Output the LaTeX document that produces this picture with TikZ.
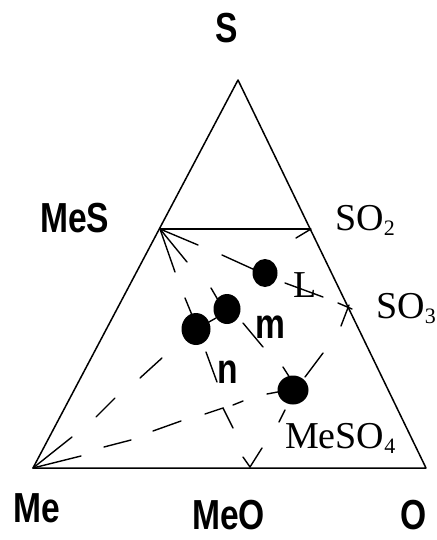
\documentclass[tikz,border=0pt]{standalone}
\usepackage{fontspec}
\setmainfont{Liberation Serif}
\newfontfamily\lblfont[FakeStretch=0.8]{Liberation Sans}
\usetikzlibrary{shapes.geometric}
\newcommand\sanslbl{\lblfont\bfseries\fontsize{42}{44}\selectfont}
\newcommand\seriflbl{\rmfamily\fontsize{38}{40}\selectfont}
\newcommand\sbs[1]{\raisebox{-5pt}{\fontsize{22}{22}\selectfont #1}}
\tikzset{
  edge/.style={line width=1.5pt, line cap=round, line join=round},
  tie/.style={line width=1.4pt, line cap=round},
  dot/.style={ellipse, fill=black, inner sep=0pt},
  sl/.style={inner sep=0pt, anchor=base west, font=\sanslbl},
  rl/.style={inner sep=0pt, anchor=base west, font=\seriflbl},
}
\begin{document}
\begin{tikzpicture}[x=1pt,y=-1pt]
\useasboundingbox (0,0) rectangle (436,540);
% vertices
\coordinate (S) at (238,80);
\coordinate (Me) at (33,468);
\coordinate (O) at (426,468);
\coordinate (MeS) at (160,229);
\coordinate (SO2) at (311,229);
% triangle
\draw[edge] (S) -- (Me) -- (O) -- cycle;
\draw[line width=2pt] (MeS) -- (SO2);
% dots
\node[dot, minimum width=25pt, minimum height=28pt] (dL) at (265,273) {};
\node[dot, minimum width=27pt, minimum height=30pt] (dm) at (227,309) {};
\node[dot, minimum width=29pt, minimum height=32pt] (dn) at (196,329) {};
\node[dot, minimum width=31pt, minimum height=29pt] (dq) at (293,390) {};
% labels
\node[sl, anchor=base] (lS) at (227,43) {S};
\node[sl] (lMeS) at (40,232) {MeS};
\node[rl] (lSO2) at (335,230) {SO\sbs{2}};
\node[rl] (lSO3) at (376,318) {SO\sbs{3}};
\node[rl] (lMeSO4) at (285,448) {MeSO\sbs{4}};
\node[sl] (lMe) at (13,522) {Me};
\node[sl] (lMeO) at (192,529) {MeO};
\node[sl] (lO) at (400,529) {O};
\node[rl] (lL) at (293,297) {L};
\node[sl] (lm) at (255,338) {m};
\node[sl] (ln) at (217,383) {n};
% fan at MeS
\draw[tie] (MeS) -- (198,245);
\draw[tie] (MeS) -- (187,262);
\draw[tie] (MeS) -- (175,272);
% arrow tick at SO2
\draw[tie] (SO2) -- (296,238);
% tick at SO3
\draw[tie] (338,303) -- (352,309);
\draw[tie] (341,326) -- (349,305);
% tie lines near dots
\draw[tie] (222,255) -- (255,270);
\draw[tie] (285,283) -- (323,297);
\draw[tie] (211,288) -- (218,300);
\draw[tie] (185,298) -- (192,315);
\draw[tie] (209,322) -- (216,318);
\draw[tie] (243,323) -- (263,347);
\draw[tie] (206,352) -- (217,382);
% MeSO4 dot spokes
\draw[tie] (305,377) -- (323,353);
\draw[tie] (283,367) -- (290,378);
\draw[tie] (267,394) -- (283,391);
\draw[tie] (279,422) -- (285,410);
% dashes from Me
\draw[tie] (140,378) -- (162,358);
\draw[tie] (96,417) -- (115,398);
\draw[tie] (153,431) -- (181,421);
\draw[tie] (104,447) -- (131,440);
% fan at Me
\draw[tie] (Me) -- (72,437);
\draw[tie] (Me) -- (81,456);
% cross mark
\draw[tie] (205,414) -- (223,408) -- (233,428);
\draw[tie] (233,405) -- (243,401);
% MeO tick
\draw[tie] (243,457) -- (250,467) -- (262,448);
\end{tikzpicture}
\end{document}
